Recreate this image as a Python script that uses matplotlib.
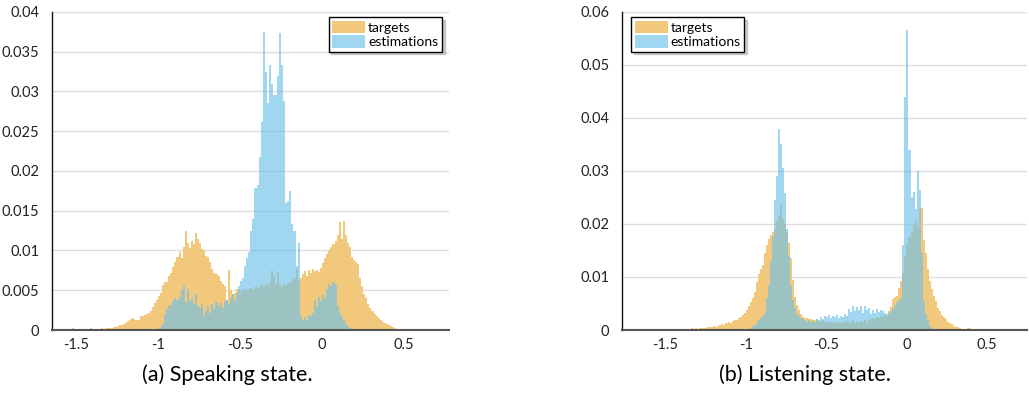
import numpy as np
import matplotlib
matplotlib.use('Agg')
import matplotlib.pyplot as plt
from matplotlib.ticker import FuncFormatter

plt.rcParams['font.family'] = ['Lato', 'DejaVu Sans']

# histogram bin width (every row below = 8 bins = 0.1 on the x axis)
BIN = 0.0125

# (a) speaking state
speak_targets_start = -1.55
speak_targets = [
    0, 0.0001, 0.0002, 0, 0.0001, 0, 0, 0.0001,                                  # -1.55
    0, 0, 0.0001, 0.0002, 0.0001, 0, 0.0001, 0.0001,                             # -1.45
    0.0002, 0.0001, 0.0002, 0.0003, 0.0002, 0.0003, 0.0004, 0.0004,              # -1.35
    0.0005, 0.0006, 0.0006, 0.0008, 0.0009, 0.0011, 0.0013, 0.0015,              # -1.25
    0.0014, 0.0012, 0.0013, 0.0017, 0.0018, 0.0019, 0.0020, 0.0021,              # -1.15
    0.0024, 0.0029, 0.0034, 0.0038, 0.0043, 0.0047, 0.0056, 0.0061,              # -1.05
    0.0060, 0.0068, 0.0072, 0.0079, 0.0086, 0.0092, 0.0098, 0.0090,              # -0.95
    0.0105, 0.0125, 0.0110, 0.0103, 0.0112, 0.0108, 0.0122, 0.0115,              # -0.85
    0.0110, 0.0102, 0.0100, 0.0093, 0.0092, 0.0085, 0.0077, 0.0072,              # -0.75
    0.0070, 0.0068, 0.0062, 0.0058, 0.0055, 0.0038, 0.0076, 0.0050,              # -0.65
    0.0045, 0.0047, 0.0052, 0.0052, 0.0048, 0.0050, 0.0052, 0.0049,              # -0.55
    0.0051, 0.0053, 0.0050, 0.0054, 0.0052, 0.0055, 0.0057, 0.0054,              # -0.45
    0.0058, 0.0056, 0.0060, 0.0076, 0.0068, 0.0058, 0.0073, 0.0056,              # -0.35
    0.0054, 0.0058, 0.0057, 0.0058, 0.0060, 0.0062, 0.0065, 0.0077,              # -0.25
    0.0062, 0.0066, 0.0070, 0.0074, 0.0068, 0.0075, 0.0072, 0.0077,              # -0.15
    0.0074, 0.0076, 0.0073, 0.0078, 0.0084, 0.0090, 0.0095, 0.0100,              # -0.05
    0.0104, 0.0108, 0.0112, 0.0120, 0.0136, 0.0115, 0.0137, 0.0120,              # 0.05
    0.0110, 0.0105, 0.0092, 0.0088, 0.0086, 0.0083, 0.0065, 0.0055,              # 0.15
    0.0045, 0.0040, 0.0033, 0.0028, 0.0024, 0.0020, 0.0017, 0.0015,              # 0.25
    0.0012, 0.0010, 0.0009, 0.0007, 0.0006, 0.0005, 0.0004, 0.0002,              # 0.35
    0.0001, 0, 0, 0, 0, 0, 0, 0,                                                 # 0.45
    0, 0, 0, 0.0001,                                                             # 0.55
]
speak_estim_start = -1.05
speak_estim = [
    0, 0, 0, 0, 0.0003, 0.0004, 0.0008, 0.0020,                                  # -1.05
    0.0027, 0.0032, 0.0030, 0.0036, 0.0040, 0.0038, 0.0042, 0.0050,              # -0.95
    0.0055, 0.0035, 0.0052, 0.0036, 0.0040, 0.0033, 0.0045, 0.0030,              # -0.85
    0.0028, 0.0033, 0.0018, 0.0024, 0.0030, 0.0022, 0.0033, 0.0027,              # -0.75
    0.0035, 0.0030, 0.0034, 0.0028, 0.0036, 0.0038, 0.0033, 0.0040,              # -0.65
    0.0045, 0.0036, 0.0047, 0.0055, 0.0062, 0.0065, 0.0081, 0.0090,              # -0.55
    0.0098, 0.0125, 0.0140, 0.0178, 0.0183, 0.0217, 0.0262, 0.0375,              # -0.45
    0.0325, 0.0285, 0.0333, 0.0310, 0.0296, 0.0296, 0.0320, 0.0373,              # -0.35
    0.0333, 0.0288, 0.0160, 0.0162, 0.0175, 0.0133, 0.0125, 0.0080,              # -0.25
    0.0110, 0.0018, 0.0012, 0.0016, 0.0013, 0.0019, 0.0017, 0.0022,              # -0.15
    0.0038, 0.0030, 0.0042, 0.0036, 0.0045, 0.0040, 0.0052, 0.0058,              # -0.05
    0.0055, 0.0060, 0.0057, 0.0030, 0.0022, 0.0018, 0.0012, 0.0008,              # 0.05
    0.0005, 0.0002,                                                              # 0.15
]

# (b) listening state
listen_targets_start = -1.45
listen_targets = [
    0.0001, 0.0002, 0.0001, 0.0002, 0.0001, 0.0002, 0.0002, 0.0001,              # -1.45
    0.0002, 0.0003, 0.0002, 0.0003, 0.0002, 0.0003, 0.0003, 0.0004,              # -1.35
    0.0003, 0.0005, 0.0006, 0.0005, 0.0007, 0.0006, 0.0008, 0.0010,              # -1.25
    0.0011, 0.0009, 0.0013, 0.0015, 0.0014, 0.0017, 0.0019, 0.0018,              # -1.15
    0.0022, 0.0025, 0.0028, 0.0033, 0.0038, 0.0045, 0.0052, 0.0060,              # -1.05
    0.0072, 0.0090, 0.0105, 0.0115, 0.0122, 0.0145, 0.0160, 0.0172,              # -0.95
    0.0180, 0.0185, 0.0190, 0.0205, 0.0215, 0.0238, 0.0210, 0.0200,              # -0.85
    0.0185, 0.0165, 0.0135, 0.0095, 0.0062, 0.0048, 0.0038, 0.0030,              # -0.75
    0.0025, 0.0022, 0.0023, 0.0020, 0.0021, 0.0019, 0.0018, 0.0020,              # -0.65
    0.0017, 0.0016, 0.0018, 0.0015, 0.0016, 0.0014, 0.0015, 0.0013,              # -0.55
    0.0016, 0.0014, 0.0015, 0.0013, 0.0016, 0.0014, 0.0017, 0.0013,              # -0.45
    0.0015, 0.0018, 0.0014, 0.0016, 0.0013, 0.0017, 0.0015, 0.0019,              # -0.35
    0.0016, 0.0018, 0.0020, 0.0022, 0.0021, 0.0024, 0.0023, 0.0026,              # -0.25
    0.0025, 0.0028, 0.0027, 0.0036, 0.0044, 0.0058, 0.0062, 0.0065,              # -0.15
    0.0080, 0.0092, 0.0108, 0.0140, 0.0160, 0.0176, 0.0185, 0.0200,              # -0.05
    0.0207, 0.0195, 0.0233, 0.0230, 0.0170, 0.0145, 0.0115, 0.0092,              # 0.05
    0.0078, 0.0065, 0.0055, 0.0042, 0.0035, 0.0028, 0.0024, 0.0020,              # 0.15
    0.0016, 0.0013, 0.0011, 0.0008, 0.0006, 0.0005, 0.0003, 0.0002,              # 0.25
    0.0002, 0.0001, 0.0003, 0.0003, 0.0002, 0.0001,                              # 0.35
]
listen_estim_start = -1.05
listen_estim = [
    0, 0, 0, 0, 0.0001, 0.0002, 0.0004, 0.0007,                                  # -1.05
    0.0010, 0.0013, 0.0018, 0.0022, 0.0026, 0.0032, 0.0060, 0.0085,              # -0.95
    0.0130, 0.0175, 0.0245, 0.0290, 0.0380, 0.0350, 0.0305, 0.0258,              # -0.85
    0.0190, 0.0140, 0.0085, 0.0056, 0.0042, 0.0030, 0.0026, 0.0022,              # -0.75
    0.0020, 0.0018, 0.0016, 0.0018, 0.0015, 0.0017, 0.0016, 0.0020,              # -0.65
    0.0018, 0.0025, 0.0020, 0.0027, 0.0024, 0.0028, 0.0023, 0.0027,              # -0.55
    0.0025, 0.0028, 0.0022, 0.0026, 0.0024, 0.0030, 0.0027, 0.0040,              # -0.45
    0.0034, 0.0045, 0.0036, 0.0043, 0.0038, 0.0046, 0.0033, 0.0045,              # -0.35
    0.0037, 0.0042, 0.0030, 0.0038, 0.0032, 0.0040, 0.0034, 0.0037,              # -0.25
    0.0035, 0.0033, 0.0030, 0.0032, 0.0035, 0.0040, 0.0048, 0.0052,              # -0.15
    0.0055, 0.0060, 0.0160, 0.0440, 0.0566, 0.0340, 0.0250, 0.0260,              # -0.05
    0.0228, 0.0300, 0.0265, 0.0145, 0.0055, 0.0030, 0.0018, 0.0008,              # 0.05
    0.0003,                                                                      # 0.15
]

x_ticks = [-1.5, -1, -0.5, 0, 0.5]
speak_y_ticks = [0, 0.005, 0.01, 0.015, 0.02, 0.025, 0.03, 0.035, 0.04]
listen_y_ticks = [0, 0.01, 0.02, 0.03, 0.04, 0.05, 0.06]
labels = ['targets', 'estimations']

ORANGE = '#F2C87C'
BLUE = (110 / 255, 192 / 255, 232 / 255)


def draw_hist(ax, start, heights, **kw):
    x = start + BIN * np.arange(len(heights))
    return ax.bar(x, heights, width=BIN, align='edge', linewidth=0, **kw)


def setup_axes(ax, xlim, yticks):
    ax.set_xlim(*xlim)
    ax.set_ylim(yticks[0], yticks[-1])
    ax.set_xticks(x_ticks)
    ax.set_yticks(yticks)
    fmt = FuncFormatter(lambda v, p: '%g' % v)
    ax.xaxis.set_major_formatter(fmt)
    ax.yaxis.set_major_formatter(fmt)
    ax.tick_params(axis='both', length=0, labelsize=10.5, colors='#222222')
    ax.tick_params(axis='y', pad=9)
    ax.tick_params(axis='x', pad=6)
    ax.grid(axis='y', color='#DDDDDD', linewidth=1)
    ax.set_axisbelow(True)
    for s in ['top', 'right']:
        ax.spines[s].set_visible(False)
    ax.spines['left'].set_color('#111111')
    ax.spines['left'].set_linewidth(1)
    ax.spines['bottom'].set_color('#555555')
    ax.spines['bottom'].set_linewidth(1.5)


fig = plt.figure(figsize=(10.29, 3.93), dpi=100)
ax1 = fig.add_axes([0.0505, 0.1603, 0.3858, 0.8092])
ax2 = fig.add_axes([0.6042, 0.1603, 0.3940, 0.8092])

panels = [
    (ax1, speak_targets_start, speak_targets, speak_estim_start, speak_estim,
     (-1.646, 0.772), speak_y_ticks, 'upper right', (0.982, 0.984)),
    (ax2, listen_targets_start, listen_targets, listen_estim_start, listen_estim,
     (-1.77, 0.75), listen_y_ticks, 'upper left', (0.023, 0.984)),
]

for ax, ts, t, es, e, xlim, yt, loc, anchor in panels:
    setup_axes(ax, xlim, yt)
    b1 = draw_hist(ax, ts, t, color=ORANGE)
    b2 = draw_hist(ax, es, e, color=BLUE, alpha=0.65)
    leg = ax.legend([b1, b2], labels, loc=loc, bbox_to_anchor=anchor,
                    borderaxespad=0, fontsize=10, fancybox=False,
                    edgecolor='black', framealpha=1,
                    shadow={'color': '0.5', 'alpha': 0.35},
                    handlelength=2.4, handleheight=1.0, handletextpad=0.2,
                    labelspacing=0.12, borderpad=0.25)
    leg.get_frame().set_linewidth(1)

fig.text(0.2206, 0.046, '(a) Speaking state.', ha='center', va='center', fontsize=15.5)
fig.text(0.7823, 0.046, '(b) Listening state.', ha='center', va='center', fontsize=15.5)

fig.savefig('out.png', dpi=100)
